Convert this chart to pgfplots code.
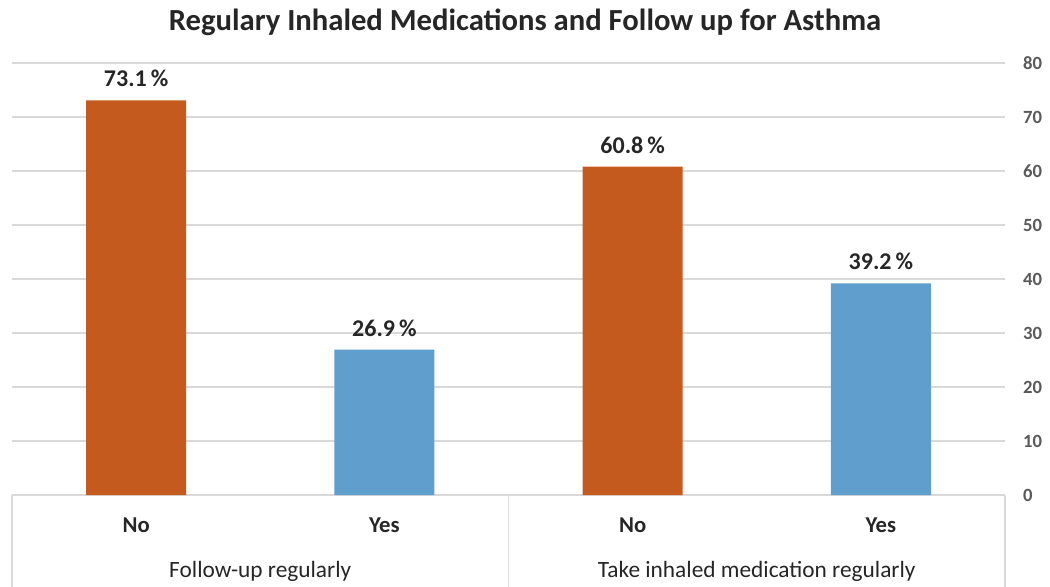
\documentclass[border=0pt]{standalone}
\usepackage{pgfplots}
\pgfplotsset{compat=1.18}
\usepackage{fontspec}
\setmainfont{Carlito}
\definecolor{barorange}{RGB}{197,90,30}
\definecolor{barblue}{RGB}{95,158,205}
\definecolor{gridgray}{RGB}{217,217,217}
\definecolor{ticktext}{RGB}{89,89,89}
\definecolor{labtext}{RGB}{38,38,38}
\begin{document}
\begin{tikzpicture}[x=1pt,y=1pt]
\path[use as bounding box] (-9,-68.25) rectangle (778.5,371.25);
\begin{axis}[at={(0,0)}, anchor=south west, scale only axis,
  width=744.75pt, height=324pt,
  xmin=-0.5, xmax=3.5, ymin=0, ymax=80,
  ybar, bar width=75pt,
  axis x line*=bottom, axis y line*=right,
  y axis line style={draw=none},
  x axis line style={draw=gridgray, line width=0.8pt},
  major tick length=0,
  ytick={0,10,...,80},
  ymajorgrids, y grid style={gridgray, line width=0.8pt},
  /pgf/number format/assume math mode=true,
  yticklabel style={font=\bfseries\fontsize{14}{14}\selectfont, text=ticktext, anchor=west, xshift=10pt},
  xtick={0,1,2,3},
  xticklabels={No,Yes,No,Yes},
  xticklabel style={font=\bfseries\fontsize{17}{17}\selectfont, text=labtext, anchor=center, yshift=-23pt},
  nodes near coords={\pgfmathprintnumber[fixed,precision=1,fixed zerofill]{\pgfplotspointmeta}\,\%},
  nodes near coords style={font=\bfseries\fontsize{18}{18}\selectfont, text=labtext, anchor=south, yshift=6.5pt},
  clip=false,
]
\addplot[fill=barorange, draw=none, bar shift=0pt] coordinates {(0,73.1) (2,60.8)};
\addplot[fill=barblue, draw=none, bar shift=0pt] coordinates {(1,26.9) (3,39.2)};
\draw[gridgray, line width=0.8pt] (axis cs:-0.5,0) -- ([yshift=-70pt]axis cs:-0.5,0);
\draw[gridgray, line width=0.8pt] (axis cs:1.5,0) -- ([yshift=-70pt]axis cs:1.5,0);
\draw[gridgray, line width=0.8pt] (axis cs:3.5,0) -- ([yshift=-70pt]axis cs:3.5,0);
\node[font=\fontsize{17.5}{17.5}\selectfont, text=labtext] at ([yshift=-57pt]axis cs:0.5,0) {Follow-up regularly};
\node[font=\fontsize{17.5}{17.5}\selectfont, text=labtext] at ([yshift=-57pt]axis cs:2.5,0) {Take inhaled medication regularly};
\end{axis}
\node[font=\bfseries\fontsize{23}{23}\selectfont, text=labtext] at (384.75,354.25) {Regulary Inhaled Medications and Follow up for Asthma};
\end{tikzpicture}
\end{document}
